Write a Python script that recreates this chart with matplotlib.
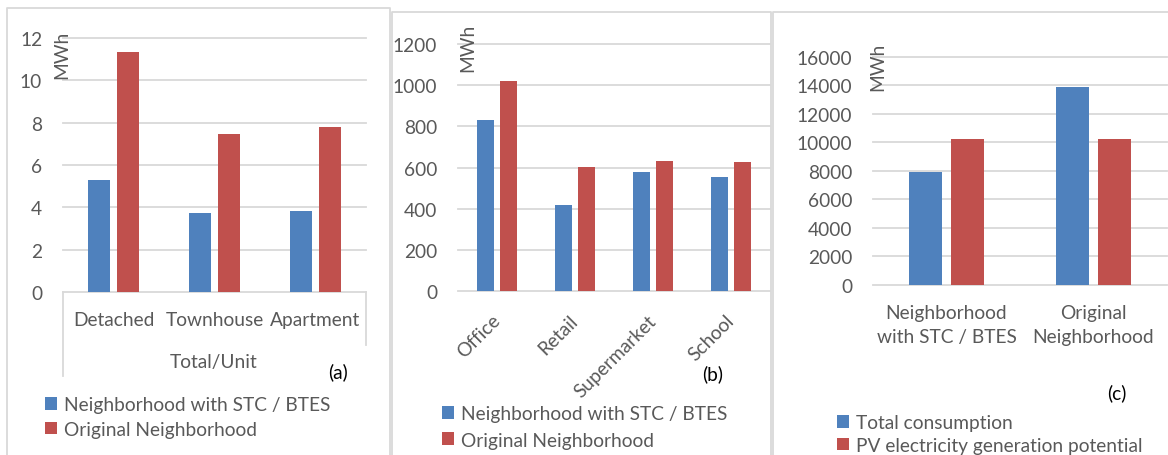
import numpy as np
import matplotlib
matplotlib.use('Agg')
import matplotlib.pyplot as plt
from matplotlib.lines import Line2D

plt.rcParams['font.family'] = ['Lato', 'DejaVu Sans']

# --- data (MWh) ---
res_types = ['Detached', 'Townhouse', 'Apartment']
res_stc = [5.3, 3.72, 3.85]
res_orig = [11.32, 7.47, 7.78]

com_types = ['Office', 'Retail', 'Supermarket', 'School']
com_stc = [830, 420, 576, 555]
com_orig = [1022, 601, 630, 626]

hood_names = ['Neighborhood\nwith STC / BTES', 'Original\nNeighborhood']
hood_consumption = [7900, 13900]
hood_pv = [10200, 10200]

BLUE = '#4F81BD'
RED = '#C0504D'
GRID = '#D9D9D9'
TXT = '#595959'
FS = 13.8

W, H = 1168, 456
fig = plt.figure(figsize=(W / 100, H / 100), dpi=100)


def px_axes(left, top, right, bottom):
    return fig.add_axes([left / W, 1 - bottom / H, (right - left) / W, (bottom - top) / H])


def fig_line(xs, ys, color=GRID, lw=1.3):
    fig.add_artist(Line2D([x / W for x in xs], [1 - y / H for y in ys],
                          transform=fig.transFigure, color=color, lw=lw))


def bars(ax, names, s1, s2, lab1, lab2, ymax, step):
    x = np.arange(len(names))
    w, off = 0.22, 0.143
    b1 = ax.bar(x - off, s1, w, color=BLUE, label=lab1, zorder=2)
    b2 = ax.bar(x + off, s2, w, color=RED, label=lab2, zorder=2)
    ax.set_xlim(-0.5, len(names) - 0.5)
    ax.set_ylim(0, ymax)
    ax.set_yticks(np.arange(0, ymax + 1, step))
    for s in ax.spines.values():
        s.set_visible(False)
    ax.yaxis.grid(True, color=GRID, lw=1.3)
    for gl in ax.get_ygridlines():
        gl.set_clip_on(False)
    ax.set_axisbelow(True)
    ax.tick_params(axis='both', length=0, labelsize=FS, labelcolor=TXT)
    ax.tick_params(axis='y', pad=15)
    ax.set_xticks(x)
    return b1, b2


def legend(ax, handles, x, y, spacing):
    ax.legend(handles=handles, loc='upper left', bbox_to_anchor=(x / W, 1 - y / H),
              bbox_transform=fig.transFigure, frameon=False, fontsize=FS,
              handlelength=0.65, handleheight=0.65, handletextpad=0.35,
              labelspacing=spacing, borderpad=0, borderaxespad=0,
              labelcolor=TXT)


# panel frames
fig_line([7, 7, 390, 390], [470, 9, 9, 470])
fig_line([392, 392, 771, 771], [470, 13, 13, 470])
fig_line([773, 773, 1168], [470, 13, 13])

# (a) residential
ax1 = px_axes(63, 39, 366, 293)
h = bars(ax1, res_types, res_stc, res_orig,
         'Neighborhood with STC / BTES', 'Original Neighborhood', 12, 2)
ax1.set_xticklabels(res_types)
ax1.tick_params(axis='x', pad=14)
fig_line([63, 63], [293, 377])
fig_line([366, 366], [293, 346])
fig.text(214 / W, 1 - 363 / H, 'Total/Unit', ha='center', va='center', fontsize=FS, color=TXT)
fig.text(338 / W, 1 - 372 / H, '(a)', ha='center', va='center', fontsize=FS, color='black')
fig.text(62 / W, 1 - 55 / H, 'MWh', ha='center', va='center', rotation=90, fontsize=FS, color=TXT)
legend(ax1, h, 45, 397, 0.4)

# (b) commercial
ax2 = px_axes(458, 45, 770, 292)
h = bars(ax2, com_types, com_stc, com_orig,
         'Neighborhood with STC / BTES', 'Original Neighborhood', 1200, 200)
ax2.set_xticklabels(com_types, rotation=45, ha='right', va='center', rotation_mode='anchor')
ax2.tick_params(axis='x', pad=19)
fig.text(713 / W, 1 - 374 / H, '(b)', ha='center', va='center', fontsize=FS, color='black')
fig.text(468 / W, 1 - 48 / H, 'MWh', ha='center', va='center', rotation=90, fontsize=FS, color=TXT)
legend(ax2, h, 442, 406, 0.5)

# (c) whole neighborhood
ax3 = px_axes(873, 57.7, 1167, 286)
h = bars(ax3, hood_names, hood_consumption, hood_pv,
         'Total consumption', 'PV electricity generation potential', 16000, 2000)
ax3.set_xticklabels(hood_names, linespacing=1.5)
ax3.tick_params(axis='x', pad=14)
fig.text(1117 / W, 1 - 393 / H, '(c)', ha='center', va='center', fontsize=FS, color='black')
fig.text(878 / W, 1 - 67 / H, 'MWh', ha='center', va='center', rotation=90, fontsize=FS, color=TXT)
legend(ax3, h, 837, 415, 0.3)

fig.savefig('out.png', dpi=100)
